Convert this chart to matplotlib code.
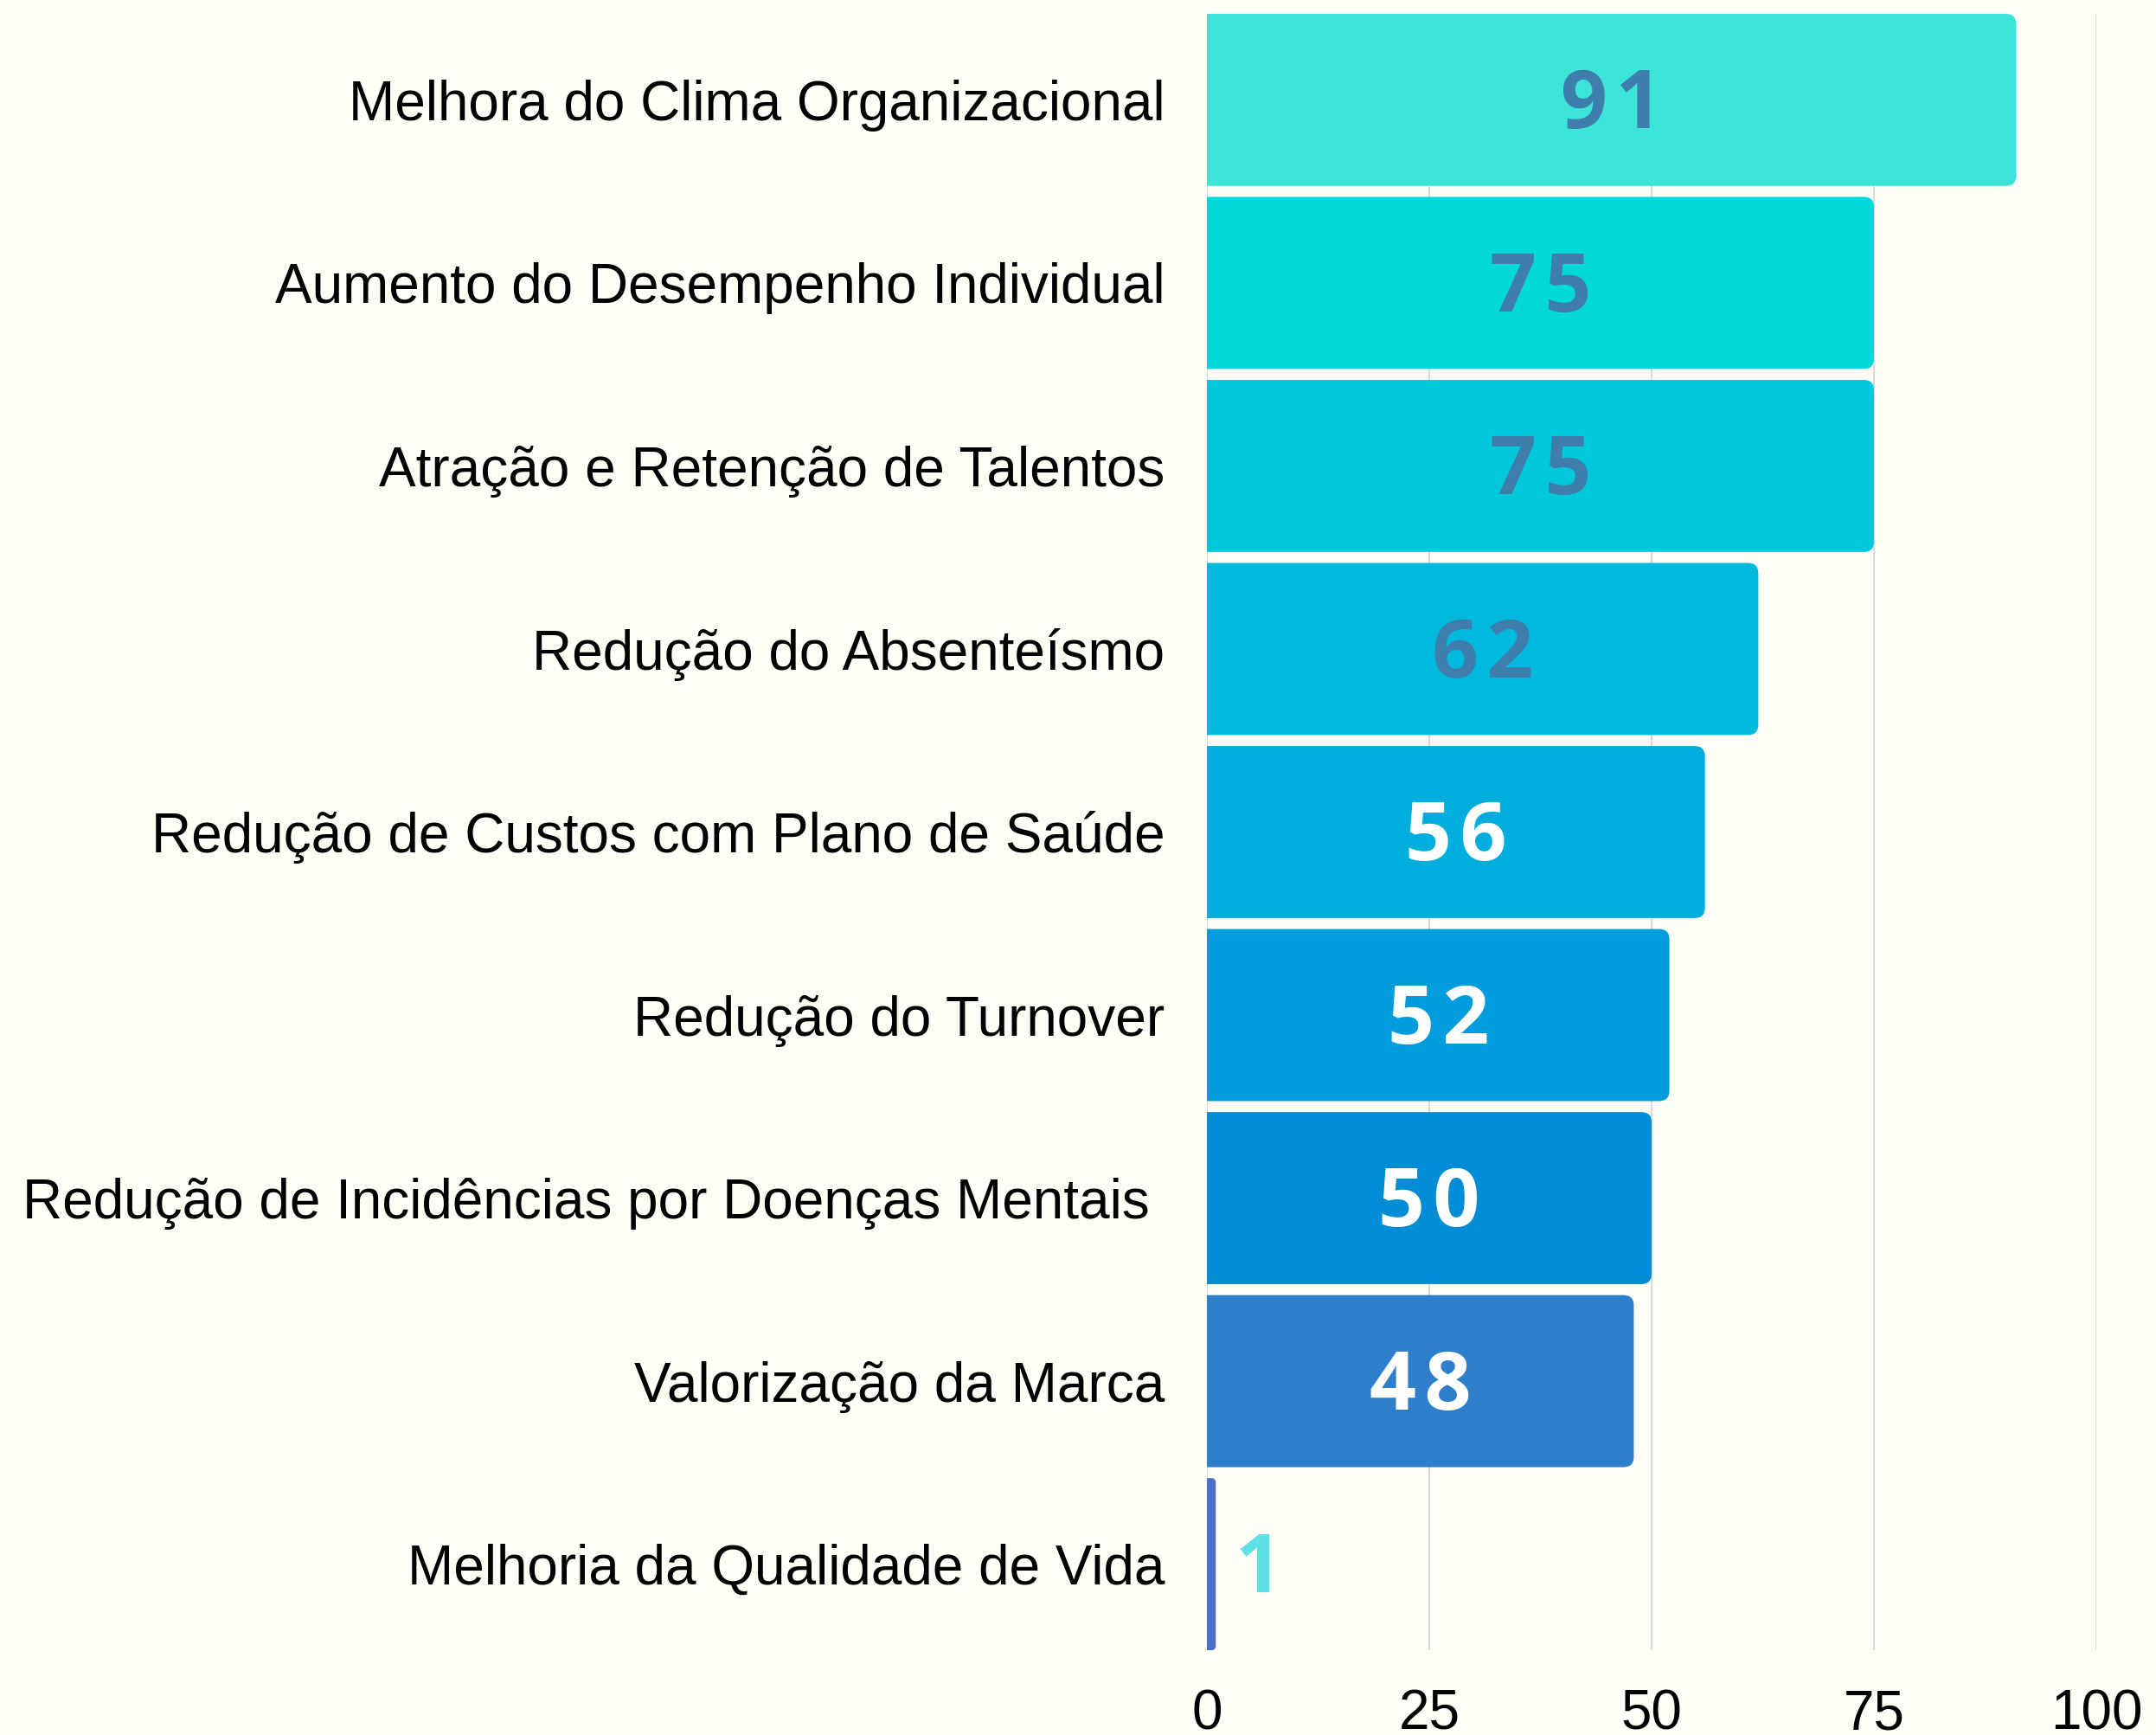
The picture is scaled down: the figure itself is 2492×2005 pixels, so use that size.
import matplotlib.pyplot as plt
from matplotlib.patches import FancyBboxPatch
from matplotlib import transforms

categorias = ['Melhora do Clima Organizacional',
              'Aumento do Desempenho Individual',
              'Atração e Retenção de Talentos',
              'Redução do Absenteísmo',
              'Redução de Custos com Plano de Saúde',
              'Redução do Turnover',
              'Redução de Incidências por Doenças Mentais ',
              'Valorização da Marca',
              'Melhoria da Qualidade de Vida']
valores = [91, 75, 75, 62, 56, 52, 50, 48, 1]
cores = ['#3BE4D6', '#00D8DA', '#00C8DB', '#00BADE', '#00AEDE',
         '#009CDB', '#008DD6', '#2E7FCB', '#4A6FC4']
cor_rotulo = ['#3F7DAD', '#3F7DAD', '#3F7DAD', '#3F7DAD', 'white',
              'white', 'white', 'white', '#5CE1E6']
xticks = [0, 25, 50, 75, 100]

fundo = '#FEFEF7'
W, H = 2492, 2005
fig = plt.figure(figsize=(W / 100, H / 100), dpi=100, facecolor=fundo)
ax = fig.add_axes([1395 / W, 1 - 1907 / H, (2423 - 1395) / W, (1907 - 16) / H])
ax.set_facecolor(fundo)

y = list(range(len(valores)))
altura = 0.94
bars = ax.barh(y, valores, height=altura, color=cores)

# cantos arredondados: troca cada retangulo por um FancyBboxPatch
px_x = 100 / 1028.0      # unidades x por pixel
px_y = 1 / 211.7         # unidades y por pixel
raio = 12 * px_x
for b, c in zip(bars, cores):
    x0, y0 = b.get_x(), b.get_y()
    w, h = b.get_width(), b.get_height()
    b.remove()
    r = min(raio, w / 2)
    p = FancyBboxPatch((x0 - 3, y0), w + 3, h,
                       boxstyle=f'round,pad=0,rounding_size={r}',
                       mutation_aspect=px_y / px_x,
                       facecolor=c, edgecolor='none', zorder=2)
    p.set_clip_path(ax.patch)
    ax.add_patch(p)

# rotulos com espacamento entre os digitos (hair space)
off = transforms.offset_copy(ax.transData, fig=fig, x=0, y=-6, units='points')
for i, v in enumerate(valores):
    if v > 10:
        xt = v / 2
    else:
        xt = v + 4.8
    ax.text(xt, i, '\u200a'.join(str(v)), ha='center', va='center',
            color=cor_rotulo[i], fontsize=68, fontweight='bold',
            family=['Open Sans', 'DejaVu Sans'], transform=off, zorder=3)

ax.set_xlim(0, 100)
ax.set_ylim(len(valores) - 0.5 - (1 - altura) / 2, -0.5 + (1 - altura) / 2)
ax.set_xticks(xticks)
ax.set_xticklabels([str(t) for t in xticks], fontsize=46, family='Liberation Sans')
ax.set_yticks(y)
ax.set_yticklabels(categorias, fontsize=46, family='Liberation Sans')
ax.tick_params(axis='both', length=0)
ax.tick_params(axis='y', pad=35)
ax.tick_params(axis='x', pad=32)
ax.grid(axis='x', color='#D9D9D9', linewidth=1.5, zorder=0)
ax.set_axisbelow(True)
for s in ax.spines.values():
    s.set_visible(False)

fig.savefig('out.png', dpi=100, facecolor=fundo)
